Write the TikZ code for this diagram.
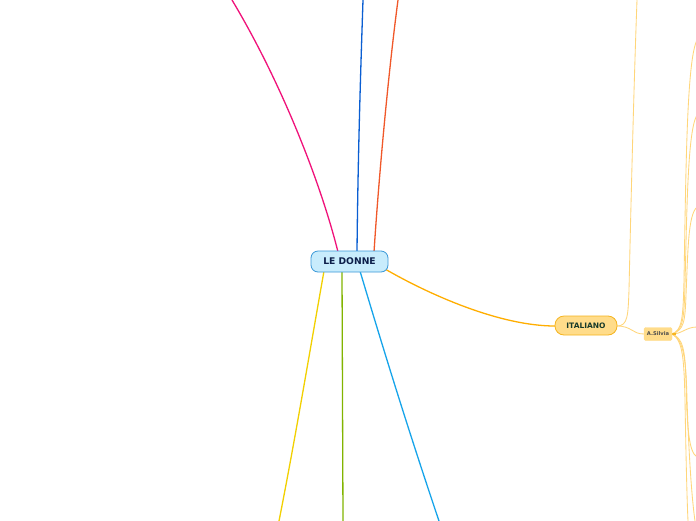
\documentclass[tikz,border=0pt]{standalone}
\usepackage{fontspec}
\setmainfont{DejaVu Sans}
\definecolor{rootfill}{HTML}{C8ECFC}
\definecolor{rootdraw}{HTML}{3A98D8}
\definecolor{roottext}{HTML}{0D1F4A}
\definecolor{itfill}{HTML}{FFDC8A}
\definecolor{itdraw}{HTML}{F5B41E}
\definecolor{ittext}{HTML}{173A2A}
\definecolor{pinkc}{HTML}{F0127A}
\definecolor{bluec}{HTML}{0A5ED2}
\definecolor{redc}{HTML}{F0582A}
\definecolor{orangec}{HTML}{FFAE00}
\definecolor{yellowc}{HTML}{F2D000}
\definecolor{greenc}{HTML}{82B400}
\definecolor{skyc}{HTML}{16A4EA}
\definecolor{thinc}{HTML}{FFD67A}
\begin{document}
\begin{tikzpicture}[x=1pt,y=-1pt,
  rootbox/.style={draw=rootdraw,fill=rootfill,rounded corners=7pt,line width=0.8pt,
    minimum width=77pt,minimum height=21pt,inner sep=0pt,
    font=\fontsize{9.2}{10}\selectfont\bfseries,text=roottext},
  itbox/.style={draw=itdraw,fill=itfill,rounded corners=9pt,line width=0.8pt,
    minimum width=62pt,minimum height=19pt,inner sep=0pt,
    font=\fontsize{7.5}{8}\selectfont\bfseries,text=ittext},
  smallbox/.style={fill=itfill,draw=itfill,rounded corners=1.5pt,
    minimum width=28pt,minimum height=13pt,inner sep=0pt,
    font=\fontsize{5.2}{6}\selectfont\bfseries,text=black!70},
  mainline/.style={line width=1.3pt},
  thinline/.style={draw=thinc,line width=0.85pt}]
\useasboundingbox (0,0) rectangle (696,520);
\fill[white] (0,0) rectangle (696,520);
% coordinates for free ends
\coordinate (pinkend) at (232,0);
\coordinate (blueend) at (363,0);
\coordinate (redend) at (398,0);
\coordinate (yellowend) at (279,521);
\coordinate (greenend) at (343,521);
\coordinate (skyend) at (439,521);
\coordinate (ittop) at (637,0);
\coordinate (u1) at (697,40);
\coordinate (u2) at (697,115);
\coordinate (u3) at (697,207);
\coordinate (r1) at (697,327);
\coordinate (d1) at (697,457);
\coordinate (d2) at (688,521);
\coordinate (d3) at (695,521);
% connectors from root
\draw[mainline,pinkc] (338,252) .. controls (320,180) and (280,80) .. (pinkend);
\draw[mainline,bluec] (357,252) .. controls (358,150) and (361,60) .. (blueend);
\draw[mainline,redc] (374,252) .. controls (380,160) and (390,60) .. (redend);
\draw[mainline,orangec] (385,269) .. controls (430,295) and (500,326) .. (555,326);
\draw[mainline,yellowc] (324,271) .. controls (310,350) and (295,440) .. (yellowend);
\draw[mainline,greenc] (342,271) -- (greenend);
\draw[mainline,skyc] (360,271) .. controls (385,355) and (410,435) .. (skyend);
% thin lines from ITALIANO
\draw[thinline] (617,326) .. controls (628,326) and (628,315) .. (629,290)
   .. controls (631,200) and (634,80) .. (ittop);
\draw[thinline] (617,326) .. controls (632,326) and (632,334) .. (644,334);
% thin lines from A.Silvia
\draw[thinline] (672,334) .. controls (682,330) and (683,320) .. (684,280) .. controls (686,160) and (687,60) .. (u1);
\draw[thinline] (672,334) .. controls (683,330) and (684,320) .. (685,285) .. controls (687,200) and (688,130) .. (u2);
\draw[thinline] (672,334) .. controls (684,330) and (685,322) .. (686,295) .. controls (688,250) and (688,215) .. (u3);
\draw[thinline] (672,334) .. controls (682,334) and (686,327) .. (r1);
\draw[thinline] (672,334) .. controls (683,338) and (685,350) .. (686,380) .. controls (687,430) and (689,452) .. (d1);
\draw[thinline] (672,334) .. controls (683,340) and (684,360) .. (685,400) .. controls (686,460) and (687,500) .. (d2);
\draw[thinline] (672,334) .. controls (684,340) and (686,360) .. (687,400) .. controls (689,460) and (692,500) .. (d3);
\draw[itdraw,line width=1.2pt] (671,334) -- (676,334);
% nodes
\node[rootbox] (root) at (349.5,261.5) {LE DONNE};
\node[itbox] (ital) at (586,325.5) {ITALIANO};
\node[smallbox] (silvia) at (658,334) {A.Silvia};
\end{tikzpicture}
\end{document}
